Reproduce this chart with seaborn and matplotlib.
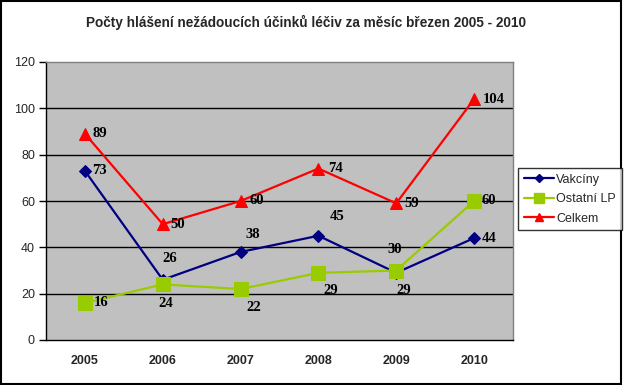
import matplotlib
matplotlib.use("Agg")
import matplotlib.pyplot as plt
import seaborn as sns
import pandas as pd
from matplotlib.lines import Line2D
from matplotlib.patches import Rectangle

years = ["2005", "2006", "2007", "2008", "2009", "2010"]
vakciny = [73, 26, 38, 45, 29, 44]
ostatni = [16, 24, 22, 29, 30, 60]
celkem = [89, 50, 60, 74, 59, 104]
series_names = ["Vakcíny", "Ostatní LP", "Celkem"]
title = "Počty hlášení nežádoucích účinků léčiv za měsíc březen 2005 - 2010"

sns.set_style("white")
plt.rcParams['font.family'] = ['Liberation Sans', 'DejaVu Sans']

fig = plt.figure(figsize=(6.26, 3.85), dpi=100)
ax = fig.add_axes([46/626, 1-340/385, (513-46)/626, (340-62)/385])
ax.set_facecolor("#C0C0C0")

colors = ["#000080", "#99CC00", "#FF0000"]
markers = ["D", "s", "^"]
msizes = [6, 10, 8]
data = [vakciny, ostatni, celkem]
xs = list(range(len(years)))
for name, vals, c, m, ms in zip(series_names, data, colors, markers, msizes):
    df = pd.DataFrame({"x": xs, "y": vals})
    sns.lineplot(data=df, x="x", y="y", ax=ax, color=c, marker=m, markersize=ms,
                 markeredgecolor=c, linewidth=1.6, legend=False, zorder=3)

# label offsets in pixels (dx, dy) per series/point
offs = {
    0: [(15, 0), (7, 21), (12, 17), (19, 19), (7, -18), (15, 0)],
    1: [(16, 0), (3, -19), (13, -18), (12, -18), (-2, 21), (15, 0)],
    2: [(15, 0), (15, 0), (16, 0), (17, 0), (15, 0), (20, 0)],
}
for si, vals in enumerate(data):
    for i, v in enumerate(vals):
        dx, dy = offs[si][i]
        ax.annotate(str(v), (xs[i], v), xytext=(dx, dy), textcoords="offset pixels",
                    ha="center", va="center", fontsize=10.5, fontweight="bold",
                    family="Liberation Serif", color="black", zorder=5)

ax.set_xlim(-0.5, len(years) - 0.5)
ax.set_ylim(0, 120)
ax.set_yticks(range(0, 121, 20))
ax.set_yticklabels([str(v) for v in range(0, 121, 20)], fontsize=9)
ax.set_xticks(xs)
ax.set_xticklabels(years, fontsize=9, fontweight="bold")
ax.set_xticks([i - 0.5 for i in range(len(years) + 1)], minor=True)
ax.tick_params(axis="x", which="major", length=0, pad=11)
ax.tick_params(axis="x", which="minor", length=5, width=1, color="black", direction="out")
ax.tick_params(axis="y", which="major", length=5, width=1, color="black", direction="out", pad=3, left=True)
ax.set_xlabel("")
ax.set_ylabel("")
for v in range(20, 101, 20):
    ax.axhline(v, color="black", linewidth=1, zorder=1)
for s in ["left", "bottom"]:
    ax.spines[s].set_color("black")
    ax.spines[s].set_linewidth(1)
for s in ["top", "right"]:
    ax.spines[s].set_color("#808080")
    ax.spines[s].set_linewidth(1)

fig.text(306/626, 1-22/385, title, ha="center", va="center", fontsize=9.8, fontweight="bold")

handles = [Line2D([0], [0], color=c, marker=m, markersize=ms*0.7, linewidth=1.6)
           for c, m, ms in zip(colors, markers, msizes)]
leg = fig.legend(handles, series_names, loc="upper left",
                 bbox_to_anchor=(518/626, 1-168/385), fontsize=9, frameon=True,
                 fancybox=False, edgecolor="black", handlelength=2.4, handletextpad=0.2,
                 borderpad=0.45, labelspacing=0.6, borderaxespad=0)
leg.get_frame().set_linewidth(1)

fig.patches.append(Rectangle((1/626, 1/385), 620/626, 383/385, transform=fig.transFigure,
                             fill=False, edgecolor="black", linewidth=1.5))

fig.savefig("out.png", dpi=100)
